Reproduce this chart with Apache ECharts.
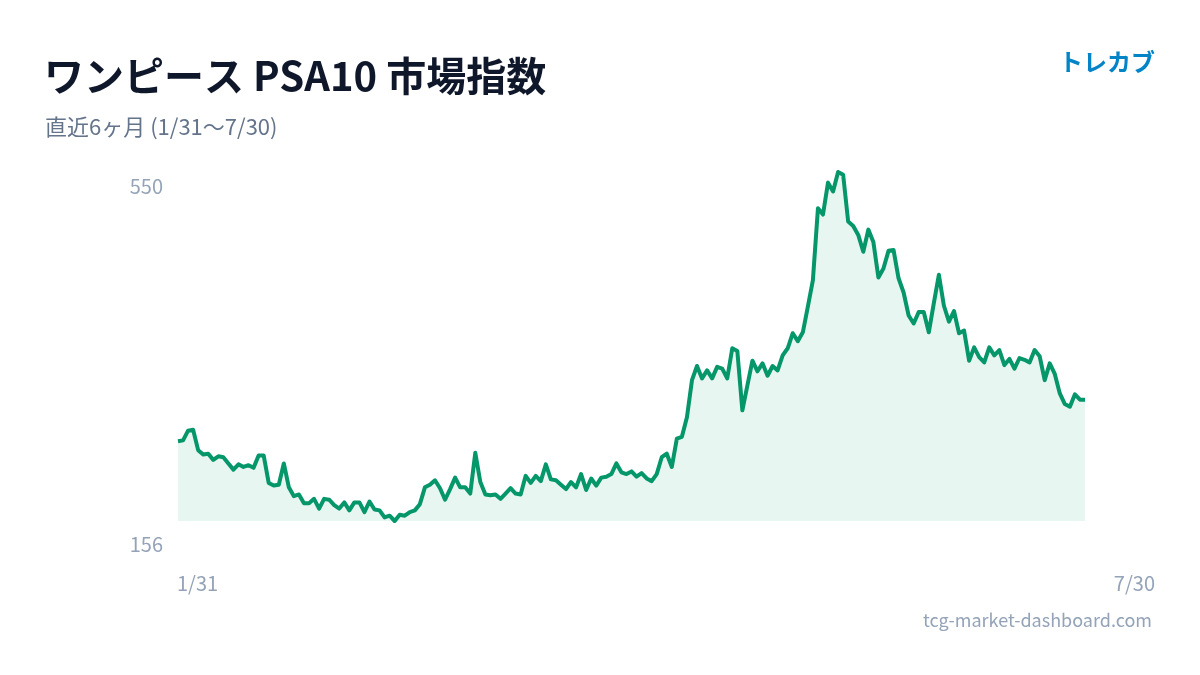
<!DOCTYPE html>
<html>
<head>
<meta charset="utf-8">
<script src="https://cdn.jsdelivr.net/npm/echarts@6/dist/echarts.min.js"></script>
<style>
  html, body { margin: 0; padding: 0; background: #ffffff; }
  #chart { width: 1200px; height: 675px; }
</style>
</head>
<body>
<div id="chart"></div>
<script>
//////////////////////////////
//          データ
//////////////////////////////
var titleText = 'ワンピース PSA10 市場指数';
var subTitleText = '直近6ヶ月 (1/31〜7/30)';
var brandText = 'トレカブ';
var siteText = 'tcg-market-dashboard.com';

// y軸 (最大・最小)
var yTickLabels = ['550', '156'];
var yMin = 156;
var yMax = 550;

// x軸 (両端)
var xTickLabels = ['1/31', '7/30'];

// 日付カテゴリ 1/31 〜 7/30
var categories = [];
for (var i = 0; i < 181; i++) {
    var d = new Date(2025, 0, 31 + i);
    categories.push((d.getMonth() + 1) + '/' + d.getDate());
}

// 指数の値 (1/31〜7/30)
var indexFeb = [246, 247, 258, 259, 236, 231, 232, 225, 229, 228,
    221, 214, 220, 217, 219, 216, 230, 230, 199, 196,
    197, 221, 194, 184, 186, 176, 176, 181, 170, 181];
var indexMar = [180, 174, 170, 177, 168, 177, 177, 166, 178, 169,
    168, 160, 162, 156, 163, 162, 166, 168, 175, 194,
    197, 202, 193, 180, 192, 205, 194, 194, 187, 233];
var indexApr = [200, 186, 185, 186, 181, 187, 193, 187, 186, 207,
    199, 207, 201, 220, 203, 202, 197, 192, 200, 194,
    209, 191, 204, 196, 205, 206, 209, 221, 211, 209, 212];
var indexMay = [206, 210, 204, 201, 209, 228, 232, 217, 249, 251,
    273, 315, 331, 317, 326, 317, 330, 328, 317, 351,
    348, 281, 309, 337, 325, 334, 320, 331, 326, 343];
var indexJun = [351, 368, 359, 369, 398, 428, 509, 502, 538, 528,
    550, 547, 494, 489, 479, 460, 485, 471, 431, 441,
    461, 462, 430, 414, 388, 379, 392, 392, 369, 402];
var indexJul = [434, 399, 381, 393, 368, 371, 337, 352, 341, 335,
    352, 343, 349, 332, 339, 328, 340, 338, 335, 349,
    342, 315, 334, 322, 300, 288, 285, 299, 293, 293];

var indexValues = indexFeb.concat(indexMar, indexApr, indexMay, indexJun, indexJul);

//////////////////////////////
//          図表
//////////////////////////////
var myChart = echarts.init(document.getElementById('chart'));

var fontJP = '"Noto Sans CJK JP", "Noto Sans", sans-serif';

var option = {
    backgroundColor: '#ffffff',
    animation: false,
    grid: {
        left: 178,
        right: 115,
        top: 172,
        bottom: 154
    },
    xAxis: {
        type: 'category',
        boundaryGap: false,
        data: categories,
        show: false
    },
    yAxis: {
        type: 'value',
        min: yMin,
        max: yMax,
        show: false
    },
    series: [{
        name: '市場指数',
        type: 'line',
        data: indexValues,
        showSymbol: false,
        lineStyle: {
            color: '#059669',
            width: 4,
            join: 'round'
        },
        areaStyle: {
            color: 'rgba(5, 150, 105, 0.13)'
        }
    }],
    graphic: [
        // タイトル
        {
            type: 'text', x: 44, y: 76,
            style: {
                text: titleText, fill: '#0f172a',
                font: 'bold 40px ' + fontJP,
                verticalAlign: 'middle'
            }
        },
        {
            type: 'text', x: 45, y: 127,
            style: {
                text: subTitleText, fill: '#64748b',
                font: '22px ' + fontJP,
                verticalAlign: 'middle'
            }
        },
        {
            type: 'text', x: 1155, y: 62,
            style: {
                text: brandText, fill: '#0284c7',
                font: 'bold 24px ' + fontJP,
                align: 'right', verticalAlign: 'middle'
            }
        },
        // y軸ラベル
        {
            type: 'text', x: 163, y: 186,
            style: {
                text: yTickLabels[0], fill: '#94a3b8',
                font: '20px ' + fontJP,
                align: 'right', verticalAlign: 'middle'
            }
        },
        {
            type: 'text', x: 163, y: 544,
            style: {
                text: yTickLabels[1], fill: '#94a3b8',
                font: '20px ' + fontJP,
                align: 'right', verticalAlign: 'middle'
            }
        },
        // x軸ラベル
        {
            type: 'text', x: 177, y: 583,
            style: {
                text: xTickLabels[0], fill: '#94a3b8',
                font: '20px ' + fontJP,
                align: 'left', verticalAlign: 'middle'
            }
        },
        {
            type: 'text', x: 1155, y: 583,
            style: {
                text: xTickLabels[1], fill: '#94a3b8',
                font: '20px ' + fontJP,
                align: 'right', verticalAlign: 'middle'
            }
        },
        // サイト名
        {
            type: 'text', x: 1152, y: 620,
            style: {
                text: siteText, fill: '#94a3b8',
                font: '18px ' + fontJP,
                align: 'right', verticalAlign: 'middle'
            }
        }
    ]
};

myChart.setOption(option);
</script>
</body>
</html>
